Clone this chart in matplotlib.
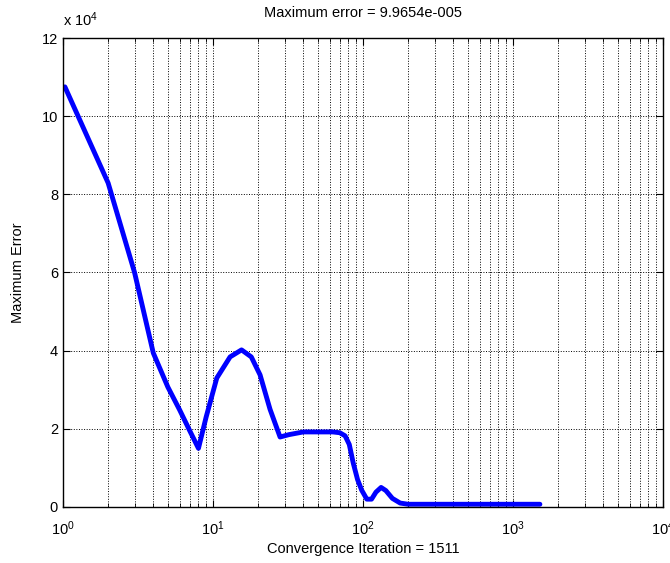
import numpy as np
import matplotlib
matplotlib.use("Agg")
import matplotlib.pyplot as plt
from matplotlib.ticker import LogLocator, NullFormatter

plt.rcParams["font.family"] = ["Liberation Sans", "DejaVu Sans"]
plt.rcParams["mathtext.fontset"] = "custom"
plt.rcParams["mathtext.rm"] = "Liberation Sans"
plt.rcParams["mathtext.it"] = "Liberation Sans:italic"

# iteration index vs maximum error
iters = [1.03, 2, 3, 4, 5, 6, 7, 8, 9, 10.6, 13, 15.5, 18, 20.6, 24, 28, 32, 40,
         50, 63, 70, 76, 81, 86, 92, 98, 106, 114, 122, 132, 142, 157, 177, 200,
         300, 500, 1000, 1511]
err = [10.75, 8.29, 6.0, 3.94, 3.07, 2.48, 1.95, 1.5, 2.3, 3.3, 3.84, 4.02, 3.84,
       3.38, 2.5, 1.79, 1.85, 1.92, 1.92, 1.92, 1.9, 1.82, 1.6, 1.13, 0.7, 0.43,
       0.2, 0.2, 0.38, 0.5, 0.42, 0.22, 0.1, 0.07, 0.07, 0.07, 0.07, 0.07]
err = np.array(err) * 1e4

fig = plt.figure(figsize=(6.7, 5.63), dpi=100)
ax = fig.add_axes([0.094, 0.0995, 0.8956, 0.833])
ax.semilogx(iters, err / 1e4, color="#0000ff", lw=3.5, solid_capstyle="round")

ax.set_xlim(1, 1e4)
ax.set_ylim(0, 12)
ax.set_yticks(range(0, 13, 2))
ax.xaxis.set_major_locator(LogLocator(base=10, numticks=10))
ax.xaxis.set_minor_locator(LogLocator(base=10, subs=np.arange(2, 10), numticks=10))
ax.xaxis.set_minor_formatter(NullFormatter())

ax.grid(True, which="major", axis="both", color="black", linestyle=":", lw=0.7)
ax.grid(True, which="minor", axis="x", color="black", linestyle=":", lw=0.7)

ax.tick_params(which="both", direction="in", top=True, right=True, labelsize=10.5)
ax.tick_params(which="major", length=5)
ax.tick_params(which="minor", length=3)
ax.tick_params(axis="x", which="major", pad=9)
for s in ax.spines.values():
    s.set_linewidth(1.0)

ax.text(0.0, 1.02, r"x 10$^4$", transform=ax.transAxes, fontsize=10.5,
        ha="left", va="bottom")
ax.set_title("Maximum error = 9.9654e-005", fontsize=10.5, pad=15)
ax.set_xlabel("Convergence Iteration = 1511", fontsize=10.5, labelpad=3)
ax.set_ylabel("Maximum Error", fontsize=10.5, labelpad=12)

fig.savefig("out.png", dpi=100)
